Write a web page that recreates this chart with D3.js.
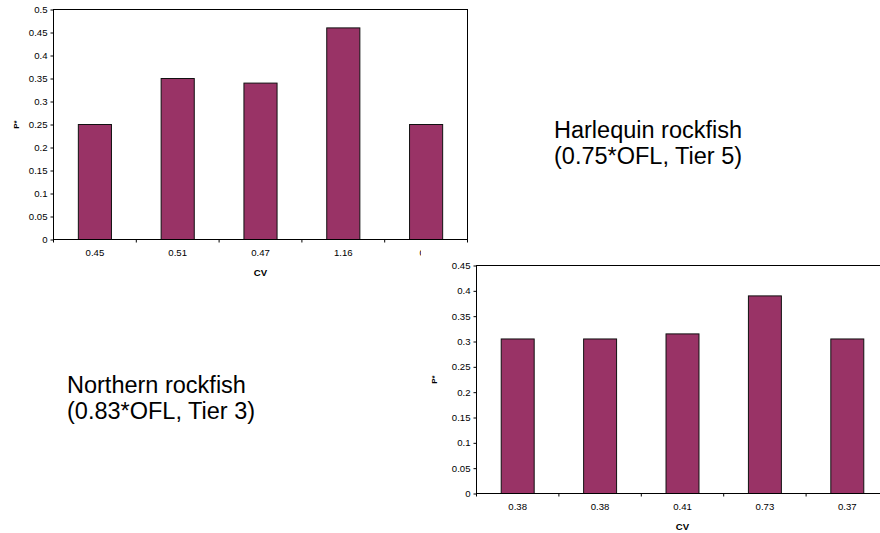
<!DOCTYPE html>
<html>
<head>
<meta charset="utf-8">
<script src="https://cdn.jsdelivr.net/npm/d3@7"></script>
<style>
	body { margin: 0; background: #fff; }
	svg { display: block; font-family: "Liberation Sans", Arial, sans-serif; }
	.tick text { font-size: 9.6px; fill: #000; }
	.tick line { stroke: #000; }
</style>
</head>
<body>
<svg id="chart" width="880" height="533"></svg>
<script>
// harlequin rockfish (top chart)
var harlequinCV = ['0.45', '0.51', '0.47', '1.16', '0.5'],
	harlequinP = [0.25, 0.35, 0.34, 0.46, 0.25],
	harlequinTicks = [0, 0.05, 0.1, 0.15, 0.2, 0.25, 0.3, 0.35, 0.4, 0.45, 0.5]

// northern rockfish (bottom chart)
var northernCV = ['0.38', '0.38', '0.41', '0.73', '0.37'],
	northernP = [0.305, 0.305, 0.315, 0.39, 0.305],
	northernTicks = [0, 0.05, 0.1, 0.15, 0.2, 0.25, 0.3, 0.35, 0.4, 0.45]

var harlequinTitle = ['Harlequin rockfish', '(0.75*OFL, Tier 5)'],
	northernTitle = ['Northern rockfish', '(0.83*OFL, Tier 3)']

var svg = d3.select('#chart')

var drawBars = function(g, geo, cats, vals, ticks) {
	var x = d3.scaleBand().domain(d3.range(cats.length))
			.range([geo.x0, geo.x1]).paddingInner(0.6).paddingOuter(0.3),
		y = d3.scaleLinear().domain([0, d3.max(ticks)]).range([geo.y1, geo.y0])

	// y axis
	g.append('g')
		.attr('transform', 'translate(' + geo.x0 + ',0)')
		.call(d3.axisLeft(y).tickValues(ticks).tickSize(3).tickPadding(3).tickFormat(function(d) {return d}))
		.call(function(a) {a.select('.domain').remove()})

	// x labels
	g.append('g')
		.attr('transform', 'translate(0,' + geo.y1 + ')')
		.call(d3.axisBottom(x).tickSize(0).tickPadding(10).tickFormat(function(i) {return cats[i]}))
		.call(function(a) {a.select('.domain').remove()})

	// category boundary ticks
	g.selectAll('.xtick')
		.data(d3.range(cats.length + 1))
		.enter()
		.append('line')
		.attr('class', 'xtick')
		.attr('x1', function(i) {return geo.x0 + i * x.step()})
		.attr('x2', function(i) {return geo.x0 + i * x.step()})
		.attr('y1', geo.y1)
		.attr('y2', geo.y1 + 3)
		.attr('stroke', '#000')

	g.selectAll('.bar')
		.data(vals)
		.enter()
		.append('rect')
		.attr('class', 'bar')
		.attr('x', function(d, i) {return x(i)})
		.attr('y', function(d) {return y(d)})
		.attr('width', x.bandwidth())
		.attr('height', function(d) {return geo.y1 - y(d)})
		.attr('fill', '#993366')
		.attr('stroke', '#111')
		.attr('stroke-width', 1)

	// plot frame
	g.append('rect')
		.attr('x', geo.x0).attr('y', geo.y0)
		.attr('width', geo.x1 - geo.x0).attr('height', geo.y1 - geo.y0)
		.attr('fill', 'none').attr('stroke', '#000')

	g.append('text')
		.attr('x', (geo.x0 + geo.x1) / 2).attr('y', geo.y1 + 36)
		.attr('text-anchor', 'middle')
		.style('font-size', '9.6px').style('font-weight', 'bold')
		.text('CV')

	g.append('text')
		.attr('transform', 'translate(' + (geo.x0 - geo.yTitle) + ',' + ((geo.y0 + geo.y1) / 2) + ') rotate(-90)')
		.attr('text-anchor', 'middle')
		.style('font-size', '8px').style('font-weight', 'bold')
		.text('P*')
}

var top_ = svg.append('g')
drawBars(top_, {x0: 53.5, x1: 467.5, y0: 9.5, y1: 239.5, yTitle: 35}, harlequinCV, harlequinP, harlequinTicks)

// bottom chart object sits over the top one
var bottom = svg.append('g')
bottom.append('rect')
	.attr('x', 421).attr('y', 245).attr('width', 459).attr('height', 288)
	.attr('fill', '#fff')
drawBars(bottom, {x0: 476.5, x1: 888.5, y0: 265.5, y1: 493.5, yTitle: 40}, northernCV, northernP, northernTicks)

var title = function(lines, x, y) {
	svg.append('text')
		.attr('x', x).attr('y', y)
		.style('font-size', '23.5px').attr('fill', '#000')
		.selectAll('tspan')
		.data(lines)
		.enter()
		.append('tspan')
		.attr('x', x)
		.attr('dy', function(d, i) {return i ? 26 : 0})
		.text(function(d) {return d})
}
title(harlequinTitle, 554, 138)
title(northernTitle, 67, 393)
</script>
</body>
</html>
